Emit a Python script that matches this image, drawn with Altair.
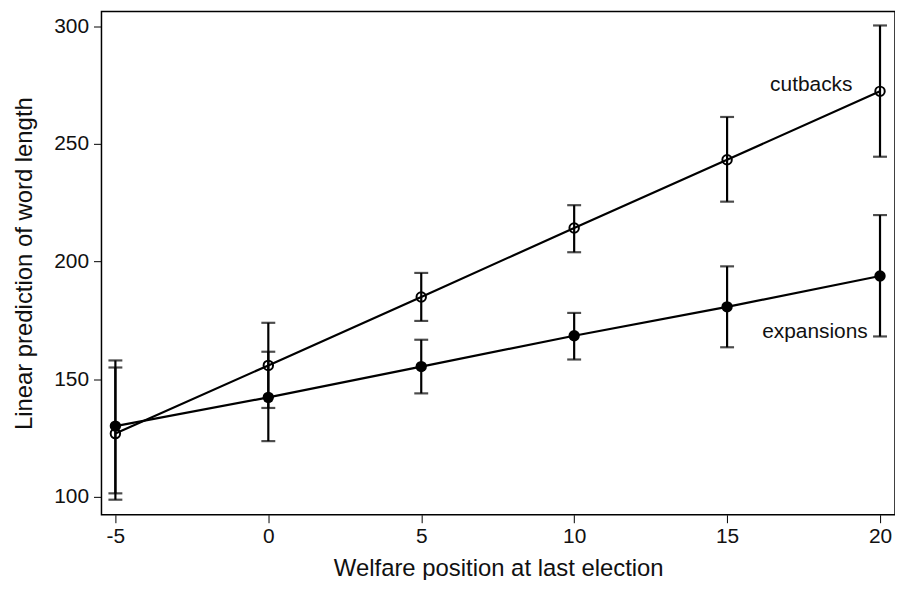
import altair as alt
import pandas as pd

x_vals = [-5, 0, 5, 10, 15, 20]
cut_mean = [126.9, 155.9, 185.0, 214.3, 243.3, 272.4]
cut_lo = [98.8, 137.8, 174.8, 204.0, 225.5, 244.6]
cut_hi = [155.0, 174.0, 195.2, 224.0, 261.5, 300.4]
exp_mean = [130.1, 142.3, 155.4, 168.5, 180.8, 193.9]
exp_lo = [101.5, 123.7, 144.0, 158.4, 163.6, 168.2]
exp_hi = [158.0, 161.7, 166.8, 178.2, 198.0, 219.8]

label_text = ["cutbacks", "expansions"]
label_x = [19.1, 19.6]
label_y = [275.0, 170.0]

rows = []
for i, x in enumerate(x_vals):
    rows.append(dict(x=x, series="cutbacks", m=cut_mean[i], lo=cut_lo[i], hi=cut_hi[i]))
    rows.append(dict(x=x, series="expansions", m=exp_mean[i], lo=exp_lo[i], hi=exp_hi[i]))
df = pd.DataFrame(rows)
lab = pd.DataFrame(dict(t=label_text, x=label_x, y=label_y))

xs = alt.Scale(domain=[-5.455, 20.49], nice=False, zero=False)
ys = alt.Scale(domain=[92.4, 306.3], nice=False, zero=False)

X = alt.X("x:Q", scale=xs, title="Welfare position at last election",
          axis=alt.Axis(values=x_vals, labelExpr="datum.value + ''", grid=False, domain=False,
                        tickSize=8, tickColor="black", tickWidth=1,
                        labelPadding=3, titlePadding=10))
Y = alt.Y("m:Q", scale=ys, title="Linear prediction of word length",
          axis=alt.Axis(values=[100, 150, 200, 250, 300], grid=False, domain=False,
                        tickSize=8, tickColor="black", tickWidth=1,
                        labelPadding=5, titlePadding=17))

base = alt.Chart(df)
rules = base.mark_rule(color="black", strokeWidth=2.2).encode(x=X, y=alt.Y("lo:Q", scale=ys), y2="hi:Q")
cap_lo = base.mark_tick(color="black", orient="horizontal", size=14, thickness=2.2).encode(x=X, y=alt.Y("lo:Q", scale=ys))
cap_hi = base.mark_tick(color="black", orient="horizontal", size=14, thickness=2.2).encode(x=X, y=alt.Y("hi:Q", scale=ys))
lines = base.mark_line(color="black", strokeWidth=2.2).encode(x=X, y=Y, detail="series:N")
open_pts = base.transform_filter(alt.datum.series == "cutbacks").mark_point(
    shape="circle", filled=False, color="black", strokeWidth=2, size=90, opacity=1).encode(x=X, y=Y)
fill_pts = base.transform_filter(alt.datum.series == "expansions").mark_point(
    shape="circle", filled=True, color="black", size=130, opacity=1).encode(x=X, y=Y)
labels = alt.Chart(lab).mark_text(align="right", baseline="middle", fontSize=21,
                                  font="Liberation Sans", color="#111").encode(
    x=alt.X("x:Q", scale=xs), y=alt.Y("y:Q", scale=ys), text="t:N")

chart = alt.layer(rules, cap_lo, cap_hi, lines, open_pts, fill_pts, labels).properties(
    width=798, height=506,
    autosize=alt.AutoSizeParams(type="none"),
    padding={"left": 94, "top": 2, "right": 0, "bottom": 64},
).configure_view(stroke="black", strokeWidth=1.5).configure_axis(
    labelFont="Liberation Sans", labelFontSize=21, labelColor="#111",
    titleFont="Liberation Sans", titleFontSize=24, titleFontWeight="normal", titleColor="#111",
)

chart.save("out.html", embed_options={"renderer": "svg", "actions": False})
